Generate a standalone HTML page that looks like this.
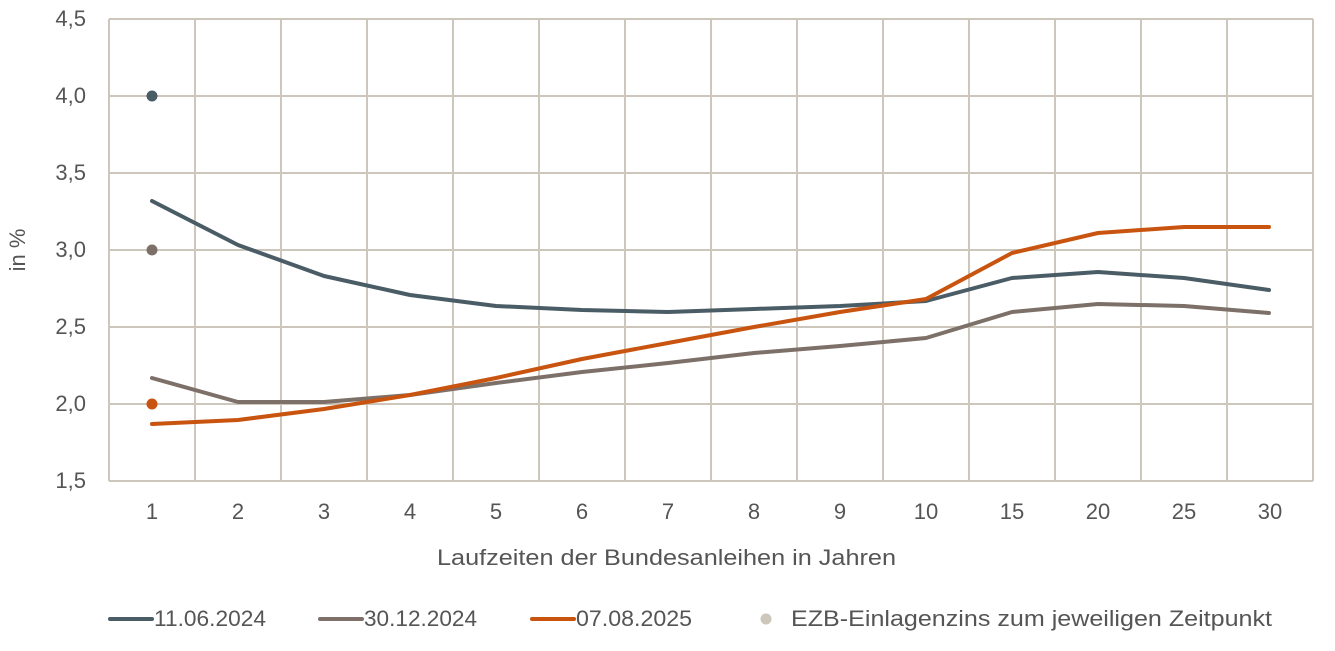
<!DOCTYPE html>
<html><head><meta charset="utf-8"><style>
body{margin:0;background:#fff;}
svg text{font-family:"Liberation Sans",sans-serif;fill:#555;}
</style></head><body>
<svg width="1335" height="646" xmlns="http://www.w3.org/2000/svg">
<g stroke="#ccc6bb" stroke-width="2" fill="none">
<path d="M109,19H1313M109,96H1313M109,173H1313M109,250H1313M109,327H1313M109,404H1313M109,481H1313"/>
<path d="M109,19V481M195,19V481M281,19V481M367,19V481M453,19V481M539,19V481M625,19V481M711,19V481M797,19V481M883,19V481M969,19V481M1055,19V481M1141,19V481M1227,19V481M1313,19V481"/>
</g>
<g font-size="22" text-anchor="end">
<text x="86" y="26">4,5</text><text x="86" y="103">4,0</text><text x="86" y="180">3,5</text><text x="86" y="257">3,0</text><text x="86" y="334">2,5</text><text x="86" y="411">2,0</text><text x="86" y="488">1,5</text>
</g>
<g font-size="22" text-anchor="middle">
<text x="152" y="519">1</text><text x="238" y="519">2</text><text x="324" y="519">3</text><text x="410" y="519">4</text><text x="496" y="519">5</text><text x="582" y="519">6</text><text x="668" y="519">7</text><text x="754" y="519">8</text><text x="840" y="519">9</text><text x="926" y="519">10</text><text x="1012" y="519">15</text><text x="1098" y="519">20</text><text x="1184" y="519">25</text><text x="1270" y="519">30</text>
</g>
<text font-size="22" x="437" y="565" textLength="459" lengthAdjust="spacingAndGlyphs">Laufzeiten der Bundesanleihen in Jahren</text>
<text font-size="22" text-anchor="middle" transform="translate(25,250) rotate(-90)">in %</text>
<g fill="none" stroke-width="4" stroke-linejoin="round" stroke-linecap="round">
<polyline stroke="#7d7068" points="152,378 238,402 324,402 410,395 496,383 582,372 668,363 754,353 840,346 926,338 1012,312 1098,304 1184,306 1269,313"/>
<polyline stroke="#4a5c66" points="152,201 238,245 324,276 410,295 496,306 582,310 668,312 754,309 840,306 926,301 1012,278 1098,272 1184,278 1269,290"/>
<polyline stroke="#c8540f" points="152,424 238,420 324,409 410,395 496,378 582,359 668,343 754,327 840,312 926,299 1012,253 1098,233 1184,227 1269,227"/>
</g>
<circle cx="152" cy="96" r="5.5" fill="#4a5c66"/>
<circle cx="152" cy="250" r="5.5" fill="#7d7068"/>
<circle cx="152" cy="404" r="5.5" fill="#c8540f"/>
<g stroke-width="4" stroke-linecap="round">
<line x1="110" y1="619" x2="152" y2="619" stroke="#4a5c66"/>
<line x1="320" y1="619" x2="362" y2="619" stroke="#7d7068"/>
<line x1="532" y1="619" x2="574" y2="619" stroke="#c8540f"/>
</g>
<circle cx="766" cy="619" r="5.5" fill="#ccc6bb"/>
<g font-size="22">
<text x="154" y="626" textLength="112" lengthAdjust="spacingAndGlyphs">11.06.2024</text>
<text x="364" y="626" textLength="113" lengthAdjust="spacingAndGlyphs">30.12.2024</text>
<text x="576" y="626" textLength="116" lengthAdjust="spacingAndGlyphs">07.08.2025</text>
<text x="791" y="626" textLength="481" lengthAdjust="spacingAndGlyphs">EZB-Einlagenzins zum jeweiligen Zeitpunkt</text>
</g>
</svg>
</body></html>
